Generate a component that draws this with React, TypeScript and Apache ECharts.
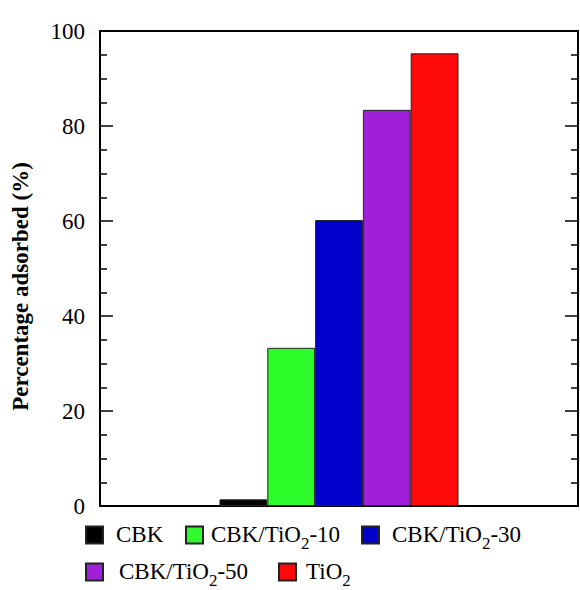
import React, { useEffect, useRef } from "react";
import * as echarts from "echarts";

const categories = ["s0", "s1", "s2", "s3", "s4", "s5", "s6", "s7", "s8", "s9", "s10"];
const seriesNames = ["CBK", "CBK/TiO2-10", "CBK/TiO2-30", "CBK/TiO2-50", "TiO2"];
const seriesSlots = [3, 4, 5, 6, 7];
const seriesValues = [1.4, 33.3, 60.2, 83.4, 95.3];
const seriesColors = ["#000000", "#2efc2a", "#0000cc", "#a01fd8", "#ff0a0a"];
const yTicks = [0, 20, 40, 60, 80, 100];

const legendPos = [
  { left: 85, top: 0, pad: 8 },
  { left: 185, top: 0, pad: 3 },
  { left: 361, top: 0, pad: 8 },
  { left: 85, top: 1, pad: 11 },
  { left: 278, top: 1, pad: 5 },
];

function richName(name: string) {
  const i = name.indexOf("TiO2");
  if (i < 0) return `{n|${name}}`;
  const before = name.slice(0, i + 3);
  const after = name.slice(i + 4);
  return `{n|${before}}{s|2}` + (after ? `{n|${after}}` : "");
}

export default function App() {
  const ref = useRef<HTMLDivElement>(null);
  useEffect(() => {
    if (!ref.current) return;
    const chart = echarts.init(ref.current, undefined, { renderer: "svg" });
    const font = "'Liberation Serif', 'Times New Roman', serif";
    const series = seriesNames.map((name, k) => ({
      name,
      type: "bar",
      stack: "all",
      barWidth: 47.8,
      data: categories.map((_, c) => (c === seriesSlots[k] ? seriesValues[k] : "-")),
      itemStyle: { color: seriesColors[k], borderColor: "#222", borderWidth: 1 },
    }));
    const legends = legendPos.map((p, k) => ({
      data: [seriesNames[k]],
      left: p.left,
      top: p.top === 0 ? 523 : 560,
      padding: 0,
      icon: "rect",
      itemWidth: 17,
      itemHeight: 17,
      selectedMode: false,
      formatter: (n: string) => richName(n),
      textStyle: {
        padding: [0, 0, 0, p.pad],
        rich: {
          n: { fontFamily: font, fontSize: 23, color: "#000", lineHeight: 24, verticalAlign: "top" },
          s: { fontFamily: font, fontSize: 17, color: "#000", lineHeight: 18, padding: [12, 0, 0, 0], verticalAlign: "top" },
        },
      },
    }));
    chart.setOption({
      animation: false,
      grid: { left: 100, right: 2, top: 31, bottom: 84, show: true, borderColor: "#000", borderWidth: 2, backgroundColor: "transparent" },
      legend: legends,
      xAxis: {
        type: "category",
        data: categories,
        boundaryGap: false,
        axisLine: { show: true, lineStyle: { color: "#000", width: 2 } },
        axisTick: { show: false },
        axisLabel: { show: false },
      },
      yAxis: [
        {
          type: "value",
          min: 0,
          max: 100,
          interval: 20,
          name: "Percentage adsorbed (%)",
          nameLocation: "middle",
          nameGap: 68,
          nameTextStyle: { fontFamily: font, fontSize: 23, fontWeight: "bold", color: "#000", padding: [0, 0, 0, -36] },
          axisLine: { show: true, lineStyle: { color: "#000", width: 2 } },
          axisTick: { show: true, inside: true, length: 13, lineStyle: { color: "#000", width: 1.5 } },
          minorTick: { show: true, splitNumber: 4, length: 7, lineStyle: { color: "#000", width: 1.5 } },
          axisLabel: {
            fontFamily: font,
            fontSize: 23,
            color: "#000",
            margin: 15,
            formatter: (v: number) => (yTicks.includes(v) ? String(v) : ""),
          },
          splitLine: { show: false },
        },
        {
          type: "value",
          position: "right",
          min: 0,
          max: 100,
          interval: 20,
          axisLine: { show: true, lineStyle: { color: "#000", width: 2 } },
          axisTick: { show: true, inside: true, length: 13, lineStyle: { color: "#000", width: 1.5 } },
          minorTick: { show: true, splitNumber: 4, length: 7, lineStyle: { color: "#000", width: 1.5 } },
          axisLabel: { show: false },
          splitLine: { show: false },
        },
      ],
      series,
    });
    return () => chart.dispose();
  }, []);
  return <div ref={ref} style={{ width: 580, height: 590, position: "absolute", left: 0, top: 0 }} />;
}
